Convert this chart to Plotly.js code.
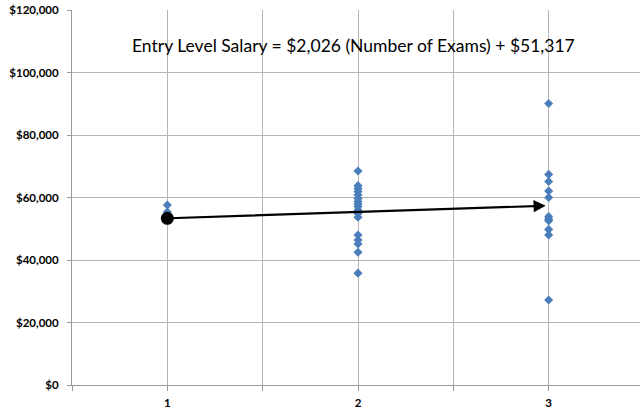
<!DOCTYPE html>
<html>
<head>
<meta charset="utf-8">
<script src="https://cdn.plot.ly/plotly-3.0.1.min.js"></script>
<style>html,body{margin:0;padding:0;background:#fff;}#chart{width:640px;height:410px;}</style>
</head>
<body>
<div id="chart"></div>
<script>
// Observed entry-level salaries by number of exams passed
const exams1 = [1, 1];
const salary1 = [57600, 55400];
const exams2 = [2,2,2,2,2,2,2,2,2,2,2,2,2,2,2,2,2];
const salary2 = [68500, 63800, 62900, 61900, 60800, 59700, 58700, 57900, 57100, 56000, 54900, 53700, 48000, 46400, 45100, 42500, 35800];
const exams3 = [3,3,3,3,3,3,3,3,3,3,3];
const salary3 = [90100, 67400, 65100, 62100, 60000, 53900, 53100, 52600, 49800, 48000, 27200];
// Regression line
const slope = 2026;
const intercept = 51317;
const lineX = [1, 3];
const xTickVals = [0.5, 1, 1.5, 2, 2.5, 3, 3.5];
const xTickText = ['', '1', '', '2', '', '3', ''];
const yTickVals = [0, 20000, 40000, 60000, 80000, 100000, 120000];
const yTickText = ['$0', '$20,000', '$40,000', '$60,000', '$80,000', '$100,000', '$120,000'];
const equationText = 'Entry Level Salary = $2,026 (Number of Exams) + $51,317';

const allX = [].concat(exams1, exams2, exams3);
const allY = [].concat(salary1, salary2, salary3);
const lineY = lineX.map(x => slope * x + intercept);

const data = [
  {
    x: allX, y: allY, type: 'scatter', mode: 'markers',
    marker: {symbol: 'diamond', size: 7, color: '#4a7ebb'},
    hoverinfo: 'skip', showlegend: false
  },
  {
    x: [lineX[0]], y: [lineY[0]], type: 'scatter', mode: 'markers',
    marker: {symbol: 'circle', size: 13, color: '#000'},
    hoverinfo: 'skip', showlegend: false, cliponaxis: false
  }
];

const gridC = '#b5b5b5';
const tickFont = {size: 11.5, family: 'Lato, sans-serif', weight: 'bold', color: '#000'};
const layout = {
  width: 640, height: 410,
  margin: {l: 72, r: 0, t: 10, b: 25},
  paper_bgcolor: '#fff', plot_bgcolor: '#fff',
  font: {family: 'Lato, "Open Sans", sans-serif', color: '#000'},
  xaxis: {
    range: [0.5, 3.479], tickmode: 'array', tickvals: xTickVals, ticktext: xTickText,
    showgrid: true, gridcolor: gridC, gridwidth: 1,
    showline: true, linecolor: '#9a9a9a', linewidth: 1,
    ticks: 'outside', ticklen: 5, tickcolor: '#9a9a9a',
    tickfont: tickFont, ticklabelstandoff: 2, zeroline: false, fixedrange: true
  },
  yaxis: {
    range: [0, 120000], tickmode: 'array', tickvals: yTickVals, ticktext: yTickText,
    showgrid: true, gridcolor: gridC, gridwidth: 1,
    showline: true, linecolor: '#9a9a9a', linewidth: 1,
    ticks: 'outside', ticklen: 4, tickcolor: '#9a9a9a',
    tickfont: tickFont, ticklabelstandoff: 6, zeroline: false, fixedrange: true
  },
  annotations: [
    {
      xref: 'paper', yref: 'paper', x: 0.495, y: 0.904,
      text: equationText, showarrow: false,
      font: {size: 17.5, family: 'Lato, sans-serif', color: '#000'},
      xanchor: 'center', yanchor: 'middle'
    },
    {
      xref: 'x', yref: 'y', x: lineX[1], y: lineY[1],
      axref: 'x', ayref: 'y', ax: lineX[0], ay: lineY[0],
      text: '', showarrow: true, arrowhead: 2, arrowsize: 1.1, arrowwidth: 2.2,
      arrowcolor: '#000', standoff: 3
    }
  ]
};

Plotly.newPlot('chart', data, layout, {staticPlot: true, displayModeBar: false});
</script>
</body>
</html>
